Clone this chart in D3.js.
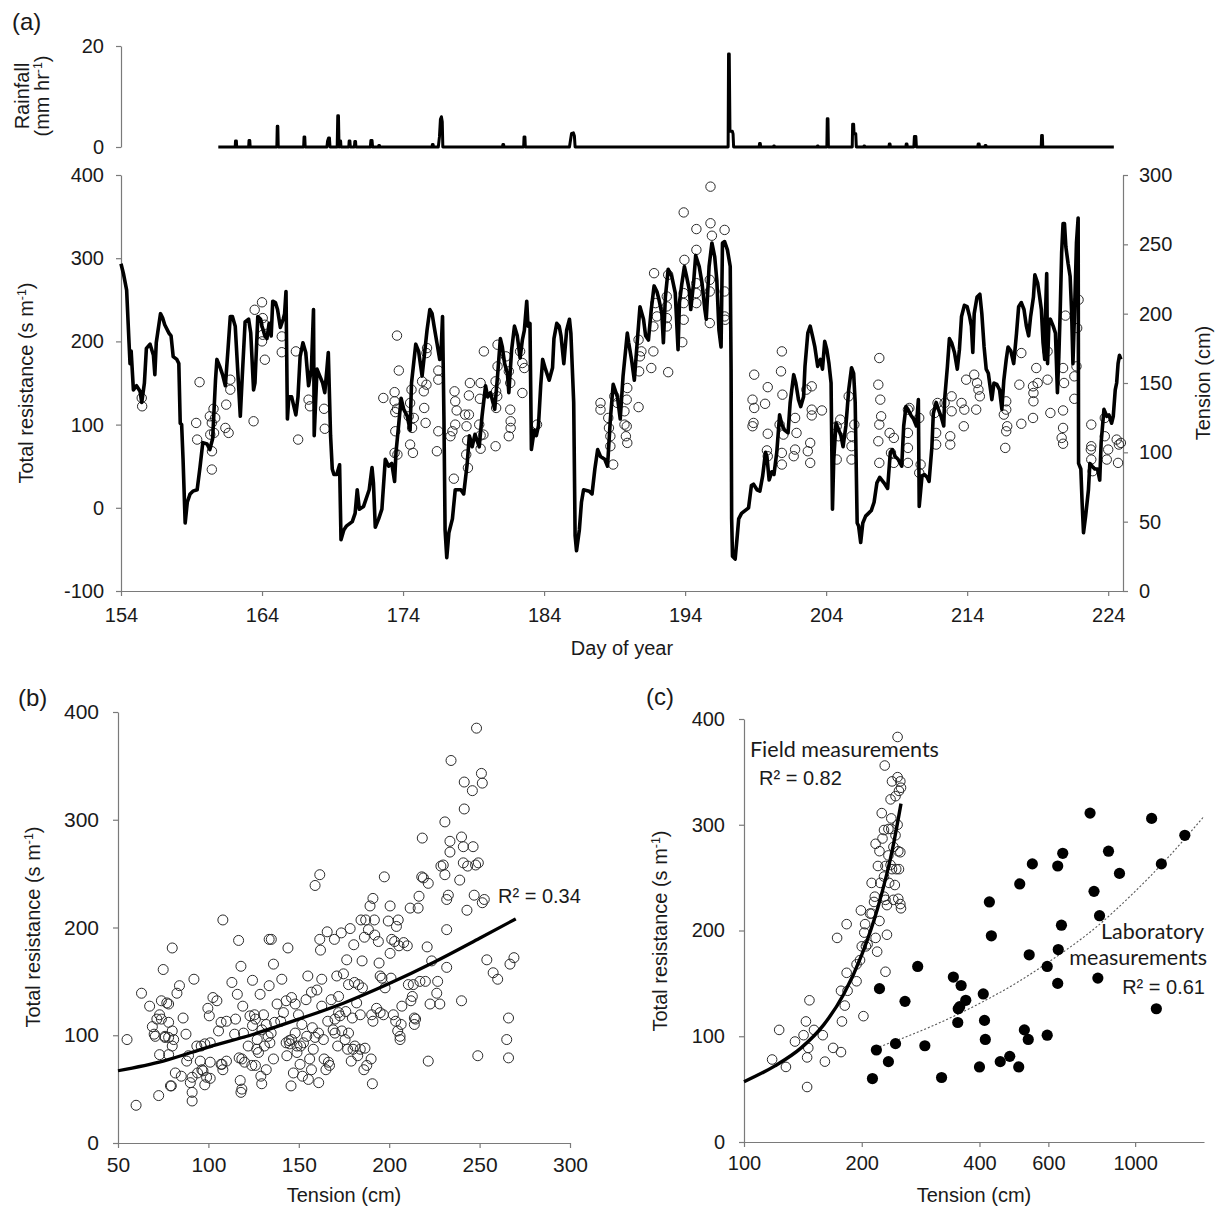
<!DOCTYPE html>
<html>
<head>
<meta charset="utf-8">
<script src="https://cdn.jsdelivr.net/npm/d3@7"></script>
<style>
  body { margin: 0; background: #fff; }
  svg { display: block; }
</style>
</head>
<body>
<div id="chart"></div>
<script>

// ---- data ----

// rainfall (day of year, mm/hr)
var rainfall = [
  [160.9,0],[162.1,0],[162.12,1.2],[162.18,1.2],[162.2,0],
  [163.05,0],[163.08,1.3],[163.13,1.3],[163.16,0],
  [165.05,0],[165.08,4.1],[165.12,4.1],[165.15,0],
  [166.95,0],[166.98,2.0],[167.03,2.0],[167.06,0],
  [168.6,0],[168.65,1.2],[168.72,1.8],[168.78,1.8],[168.82,0],
  [169.33,0],[169.37,6.2],[169.42,6.2],[169.46,0],[169.52,1.2],[169.57,1.2],[169.6,0],
  [170.15,0],[170.18,1.2],[170.23,1.2],[170.26,0],
  [170.55,0],[170.58,1.1],[170.63,1.1],[170.66,0],
  [171.68,0],[171.72,1.3],[171.8,1.3],[171.84,0],
  [172.25,0],[172.28,0.3],[172.33,0.3],[172.36,0],
  [176.05,0],[176.08,0.5],[176.13,0.5],[176.16,0],
  [176.5,0],[176.58,2.0],[176.65,5.5],[176.72,6.0],[176.78,5.0],[176.82,0],
  [181.05,0],[181.08,0.5],[181.13,0.5],[181.16,0],
  [182.55,0],[182.58,2.0],[182.64,2.0],[182.67,0],
  [185.8,0],[185.88,1.5],[185.95,2.7],[186.08,2.8],[186.15,2.2],[186.2,0],
  [197.05,0],[197.08,18.4],[197.13,18.4],[197.18,3.1],[197.35,3.1],[197.4,2.6],[197.44,0],
  [199.25,0],[199.28,0.7],[199.33,0.7],[199.36,0],
  [200.25,0],[200.28,0.2],[200.33,0.2],[200.36,0],
  [203.35,0],[203.38,0.2],[203.43,0.2],[203.46,0],
  [204.05,0],[204.08,5.6],[204.13,5.6],[204.16,0],
  [205.85,0],[205.88,4.5],[205.95,4.5],[205.98,2.6],[206.1,2.6],[206.14,0],
  [206.65,0],[206.68,0.2],[206.73,0.2],[206.76,0],
  [208.45,0],[208.48,0.6],[208.53,0.6],[208.56,0],
  [209.65,0],[209.68,0.6],[209.73,0.6],[209.76,0],
  [210.22,0],[210.26,2.1],[210.36,2.1],[210.4,0],
  [214.75,0],[214.78,0.6],[214.85,0.6],[214.88,0],
  [215.25,0],[215.28,0.3],[215.33,0.3],[215.36,0],
  [219.25,0],[219.28,2.3],[219.33,2.3],[219.36,0],
  [224.4,0]
];

// soil tension (day of year, cm)
var tension = [
  [154.0,236],[154.17,229],[154.4,217],[154.57,179],[154.64,164],[154.72,173],[154.88,145],[155.1,148],[155.35,144],[155.47,136],
  [155.66,150],[155.8,175],[156.06,178],[156.3,170],[156.4,156],[156.5,179],[156.6,186],[156.8,200],[156.95,197],[157.1,192],
  [157.4,186],[157.55,184],[157.7,169],[157.96,167],[158.1,164],[158.2,121],[158.3,120],[158.4,95],[158.55,49],[158.7,64],
  [158.9,70],[159.1,72],[159.4,73],[159.6,89],[159.8,107],[160.1,106],[160.3,102],[160.5,110],[160.7,152],[160.8,167],
  [161.0,162],[161.2,156],[161.4,148],[161.6,176],[161.75,198],[161.9,198],[162.1,191],[162.3,155],[162.46,126],[162.6,155],
  [162.8,194],[163.05,196],[163.2,186],[163.4,145],[163.5,150],[163.7,198],[163.9,196],[164.0,191],[164.2,184],[164.35,182],
  [164.5,193],[164.65,184],[164.76,209],[164.95,208],[165.1,203],[165.3,190],[165.5,196],[165.6,200],[165.7,216],[165.8,124],
  [165.9,140],[166.1,140],[166.4,127],[166.55,140],[166.7,169],[166.9,179],[167.1,172],[167.3,148],[167.5,160],[167.65,203],
  [167.7,112],[167.9,160],[168.1,155],[168.3,150],[168.45,143],[168.6,160],[168.7,172],[168.86,112],[168.98,88],[169.1,84],
  [169.3,84],[169.5,91],[169.6,37],[169.8,44],[170.0,47],[170.4,50],[170.6,56],[170.75,73],[170.9,59],[171.2,61],
  [171.6,73],[171.8,89],[171.9,78],[172.03,46],[172.27,52],[172.5,59],[172.74,95],[172.98,90],[173.2,92],[173.4,79],
  [173.5,100],[173.7,121],[173.86,139],[174.05,131],[174.3,126],[174.5,116],[174.6,150],[174.9,178],[175.1,173],[175.35,155],
  [175.5,169],[175.7,188],[175.9,203],[176.06,200],[176.2,191],[176.4,179],[176.6,167],[176.7,174],[176.8,198],[176.9,124],
  [176.98,44],[177.1,24],[177.25,42],[177.5,52],[177.7,73],[178.1,73],[178.3,70],[178.55,92],[178.7,112],[178.9,104],
  [179.1,113],[179.4,104],[179.6,126],[179.85,148],[180.0,140],[180.2,143],[180.5,131],[180.7,155],[180.9,182],[181.04,176],
  [181.2,164],[181.4,157],[181.5,143],[181.7,174],[181.9,191],[182.1,184],[182.3,168],[182.46,181],[182.6,188],[182.77,209],
  [182.86,191],[183.0,193],[183.1,102],[183.3,116],[183.45,112],[183.6,119],[183.76,148],[183.9,167],[184.1,160],[184.36,152],
  [184.6,161],[184.7,182],[184.9,193],[185.07,191],[185.2,184],[185.4,164],[185.6,188],[185.8,196],[185.9,186],[186.1,136],
  [186.2,40],[186.3,29],[186.5,44],[186.65,64],[186.8,73],[187.2,72],[187.4,70],[187.6,88],[187.8,102],[188.0,97],
  [188.3,95],[188.5,90],[188.7,124],[188.9,149],[189.2,140],[189.4,124],[189.6,155],[189.9,186],[190.0,179],[190.2,167],
  [190.4,152],[190.6,179],[190.8,205],[191.05,196],[191.2,184],[191.4,181],[191.6,203],[191.8,220],[192.0,216],[192.15,210],
  [192.35,200],[192.46,179],[192.6,212],[192.8,232],[193.05,227],[193.3,215],[193.5,174],[193.6,208],[193.76,221],[193.95,234],
  [194.1,227],[194.3,217],[194.4,203],[194.6,222],[194.75,242],[195.0,234],[195.2,222],[195.4,203],[195.5,196],[195.7,234],
  [195.9,251],[196.1,241],[196.25,224],[196.4,188],[196.55,176],[196.65,251],[196.8,252],[197.0,246],[197.2,234],[197.26,160],
  [197.3,52],[197.36,25],[197.55,23],[197.7,40],[197.8,52],[198.0,56],[198.25,58],[198.5,60],[198.7,76],[198.85,77],
  [199.1,73],[199.3,72],[199.5,83],[199.7,100],[199.8,97],[199.96,80],[200.15,86],[200.3,84],[200.5,100],[200.7,127],
  [200.86,120],[201.05,116],[201.3,114],[201.45,136],[201.7,156],[201.85,150],[202.04,138],[202.2,133],[202.4,140],[202.5,162],
  [202.7,186],[202.87,191],[203.03,184],[203.2,176],[203.4,162],[203.6,167],[203.74,160],[203.9,180],[204.05,174],[204.2,164],
  [204.35,150],[204.45,59],[204.54,95],[204.7,121],[204.9,116],[205.05,112],[205.2,104],[205.4,119],[205.6,145],[205.8,161],
  [205.95,157],[206.06,136],[206.2,49],[206.3,47],[206.45,35],[206.6,49],[206.8,54],[207.0,56],[207.2,58],[207.4,64],
  [207.6,78],[207.8,82],[208.1,78],[208.36,74],[208.55,100],[208.7,102],[208.9,97],[209.1,95],[209.36,90],[209.5,119],
  [209.66,133],[209.8,131],[210.0,127],[210.2,124],[210.4,119],[210.54,138],[210.6,61],[210.8,83],[210.97,84],[211.16,82],
  [211.3,79],[211.5,104],[211.6,128],[211.8,136],[211.96,131],[212.15,126],[212.34,119],[212.4,138],[212.6,162],[212.74,182],
  [212.9,179],[213.1,172],[213.3,160],[213.45,174],[213.6,198],[213.8,206],[214.0,205],[214.17,198],[214.3,191],[214.4,172],
  [214.5,200],[214.7,212],[214.9,214],[215.04,200],[215.2,176],[215.35,160],[215.5,157],[215.66,145],[215.75,138],[215.9,150],
  [216.1,149],[216.3,145],[216.46,131],[216.6,152],[216.77,167],[216.9,176],[217.1,173],[217.3,164],[217.5,186],[217.65,205],
  [217.84,208],[218.03,203],[218.2,191],[218.36,184],[218.5,198],[218.7,212],[218.8,228],[219.0,222],[219.14,212],[219.26,203],
  [219.38,179],[219.5,167],[219.55,198],[219.64,229],[219.7,164],[219.8,193],[219.9,196],[220.1,191],[220.26,186],[220.4,143],
  [220.5,169],[220.6,203],[220.7,244],[220.8,265],[220.9,265],[221.0,248],[221.16,236],[221.3,227],[221.4,203],[221.5,164],
  [221.6,196],[221.75,251],[221.87,269],[221.9,92],[222.06,88],[222.15,64],[222.25,42],[222.4,54],[222.6,73],[222.7,92],
  [222.86,90],[223.05,88],[223.24,88],[223.4,80],[223.5,107],[223.7,131],[223.9,126],[224.05,127],[224.24,121],[224.36,126],
  [224.5,145],[224.6,150],[224.7,164],[224.8,170],[224.9,167]
];

// measured total resistance (day of year, s/m)
var resistance = [
  [155.47,132],[155.5,122],[159.57,151],[159.33,102],[159.4,82],[160.3,110],[160.56,119],[160.44,102],[160.68,108],[160.33,88],
  [160.6,90],[160.45,68],[160.44,46],[161.75,154],[161.75,142],[161.46,124],[161.4,96],[161.63,90],[163.4,104],[163.48,238],
  [164.0,247],[164.05,228],[164.2,220],[164.05,208],[164.0,200],[164.2,178],[165.4,206],[165.4,187],[166.4,188],[166.56,82],
  [167.3,130],[167.4,122],[168.4,119],[168.45,95],
  [172.6,132],[173.4,139],[173.4,128],[173.45,115],[173.57,207],[173.7,165],[173.57,119],[173.45,92],[173.4,66],[173.6,64],
  [174.4,110],[174.6,142],[174.5,126],[174.76,108],[174.64,96],[174.5,76],[174.7,66],[175.35,152],[175.47,140],[175.66,148],
  [175.5,120],[175.6,102],[175.7,192],[175.66,186],[176.5,165],[176.5,154],[176.5,92],[176.4,68],[177.6,35],[177.65,140],
  [177.7,128],[177.8,117],[177.7,100],[177.5,92],[177.36,86],[178.4,112],[178.67,112],[178.5,98],[178.55,81],[178.48,64],
  [178.6,48],[178.74,150],[178.67,135],[179.5,150],[179.45,131],[179.4,100],[179.5,87],[179.5,71],[179.7,88],[179.73,188],
  [180.7,196],[180.7,170],[180.56,152],[180.6,140],[180.68,134],[180.6,120],[180.56,74],[181.3,182],[181.5,164],[181.6,150],
  [181.6,118],[181.63,104],[181.63,96],[181.5,86],[182.3,188],[182.46,174],[182.6,168],[182.46,138],[183.5,100],
  [188.0,126],[188.0,118],[188.55,108],[188.6,96],[188.7,86],[188.7,74],[188.9,52],[188.98,134],[189.2,126],[189.7,116],
  [189.7,100],[189.8,86],[189.9,78],[189.9,144],[189.86,130],[189.86,98],
  [190.7,202],[190.8,182],[190.74,164],[190.7,121],[190.9,188],[191.6,168],[191.75,188],[191.75,218],[191.8,282],[191.9,246],
  [192.0,230],[192.8,163],[192.7,254],[192.8,280],[192.7,242],[192.7,228],[192.7,218],[193.9,355],[193.95,298],[193.9,258],
  [193.9,246],[193.9,226],[193.8,199],[194.8,335],[194.8,310],[194.8,270],[194.8,258],[194.8,246],[195.8,386],[195.8,342],
  [195.9,327],[195.75,274],[195.75,260],[195.75,222],[196.8,334],[196.8,260],[196.8,230],[196.85,226],
  [198.9,160],[198.78,130],[198.9,120],[198.85,102],[198.78,98],[199.67,125],[199.86,145],[199.86,89],[199.8,69],[199.86,62],
  [200.86,188],[200.8,164],[200.9,136],[200.7,100],[200.97,88],[200.86,66],[200.86,52],[201.8,108],[201.9,90],[201.8,70],
  [201.7,62],[202.6,142],[202.98,146],[202.98,118],[202.98,111],[203.7,117],[202.87,78],[202.7,68],[202.87,54],[204.75,98],
  [204.87,86],[204.75,58],[205.0,106],[205.6,134],[206.0,100],[205.8,74],[205.8,58],[205.8,86],
  [207.77,180],[207.7,148],[207.84,130],[207.9,110],[207.77,100],[207.7,80],[207.77,54],[208.5,90],[208.8,84],[208.6,66],
  [208.8,54],[209.8,118],[209.8,90],[209.8,72],[209.8,54],[209.9,120],[210.6,108],[210.7,52],[210.6,42],[211.7,114],
  [211.8,90],[211.8,76],[211.9,126],[212.4,126],[212.9,134],[212.9,116],[212.8,86],[212.8,76],[213.6,126],[213.8,118],
  [213.76,98],[213.93,154],[214.5,160],[214.7,150],[214.8,142],[214.9,134],[214.64,118],[216.77,128],[216.77,118],[216.84,98],
  [216.77,92],[216.7,72],[216.6,112],[217.84,186],[217.7,148],[217.84,101],[218.67,146],[218.7,138],[218.7,128],[218.67,108],
  [218.9,168],[219.0,150],[219.7,154],[219.7,188],[219.9,114],[220.8,168],[220.87,150],[220.8,117],[220.8,96],[220.7,84],
  [220.8,77],[220.97,231],[221.6,158],[221.75,170],[221.8,216],[221.9,250],[221.6,131],[222.8,100],[222.77,70],[222.8,58],
  [222.9,44],[222.8,74],[223.76,108],[223.76,86],[223.9,58],[224.0,70],[224.6,82],[224.76,76],[224.7,54],[224.9,78]
];

// (b) tension (cm) vs total resistance (s/m)
var scatterB = [
  [55,96],[60,35],[63,139],[67.5,127],[69,108],[70,101],[70.6,99],[71.5,115],[73,119],[74,115],[72.5,44],[73,82],[75,161],
  [74,132],[77,130],[78,129],[78,112],[76,99],[76,98],[78,98],[80,104],[80,181],[80,90],[78,82],[79,53],[79.5,53],[80.8,96],
  [81.7,65],[82.6,139],[84,146],[85,62],[86,116],[87.6,101],[88,76],[89,81],[90,56],[91,61],[91,47],[91,39],[92,152],
  [93.6,90],[94,65],[95.5,76],[96,90],[96.4,68],[97,67],[98,54],[98,92],[99,61],[99.7,125],[100.5,118],[101,93],[101,60],
  [101,75],[102.5,135],[104.7,132],[105.6,104],[107,112],[107,73],[107.5,73],[108,68],[108,207],[110,113],[110,76],[113,149],
  [114.5,101],[115,115],[116,138],[116.7,188],[117,79],[117.6,58],[118,47],[118.5,50],[118,164],[118.5,78],[119,127],
  [119.4,102],[120,75],[122,90],[123,118],[124,72],[124.4,109],[124.4,151],[125.5,119],[126,115],[126,72],[126.7,87],
  [127,96],[127.7,84],[128.6,138],[129,62],[129.5,55],[129.6,105],[130.5,119],[131,90],[132,68],[132,110],[133,99],
  [133.6,189],[133.6,146],[134,93],[134.7,102],[134.8,189],[136,166],[136,78],[136.6,112],[138,129],[140,113],[140.6,152],
  [141.5,121],[143,132],[143,93],[143.4,81],[144,181],[144.6,95],[145,92],[145.7,53],[146,135],[146,96],[147,65],[148,102],
  [148,129],[149,90],[149,84],[149.8,119],[150.7,73],[151,90],[151.7,110],[152,62],[152.6,93],[154,133],[154.4,99],
  [155,155],[155.3,59],[156,78],[157,68],[157,140],[157.5,107],[158,87],[159,239],[159,98],[160,142],[160.9,102],[161,56],
  [161.6,249],[161.6,189],[162,179],[162.7,152],[162.7,127],[163.6,96],[164,78],[165,68],[165.7,196],[166,113],[166.4,75],
  [167,72],[167.9,133],[169,105],[169.7,189],[170,115],[170,102],[171,155],[171.5,90],[172,136],[172,121],[172.8,118],
  [173.5,195],[173.8,104],[174.7,157],[175.6,96],[176,122],[176.5,170],[177,87],[177.5,147],[177.5,102],[178.4,199],
  [179,76],[179.6,116],[180,87],[180.4,184],[180.8,149],[181,90],[182,130],[182.6,81],[183,147],[184,119],[184,87],
  [184.4,207],[185,169],[185.2,144],[186,68],[186.3,191],[186.6,88],[187,207],[187.6,72],[188.5,198],[189.4,220],[190,78],
  [190.3,119],[190.7,55],[191,227],[191,113],[191.8,207],[192,193],[193,125],[194,187],[194.4,167],[195,155],[195,121],
  [196,153],[196.8,119],[197.3,247],[197.7,144],[199.5,206],[200.5,176],[200.5,220],[201,153],[201.4,189],[202.3,119],
  [203,187],[203.6,113],[204,201],[204.7,104],[205,207],[205.4,183],[206,99],[206,96],[206.6,110],[207,127],[208,186],
  [210,183],[210.6,147],[211.6,218],[212,132],[212.8,136],[213.3,147],[213.9,116],[213.9,110],[214.6,115],[216,218],
  [216.5,229],[217,150],[218,247],[218.3,283],[218.9,246],[220,150],[221,182],[221.6,241],[221.6,76],[222.6,129],[223.5,169],
  [226.3,139],[226.8,150],[228,129],[228.6,257],[229.9,258],[230.8,249],[230.8,298],[231.8,198],[231.8,163],[231.8,226],
  [232.7,230],[233.6,270],[233.6,280],[234.2,355],[239,244],[240,132],[240,284],[241,275],[241,260],[241.5,335],[241.5,310],
  [243,216],[243.4,257],[246,327],[246.4,275],[247,230],[247.8,258],[248.3,385],[249,81],[249.3,260],[251,343],[251.5,334],
  [251.5,223],[252.6,226],[254,170],[257.5,158],[260,152],[265,96],[266,116],[266,79],[266.8,166],[269,172]
];
// trend line
var trendB = [[50,67],[75,76],[100,89],[125,101],[150,115],[175,130],[200,148],[225,168],[250,190],[270,208]];

// (c) field and laboratory measurements
var fieldC = [
  [118,78],[123,106],[128,71],[135,95],[142,101],[144,114],[145,80],[146,89],[145,52],[147,134],[151,106],[159,101],[161,76],
  [169,89],[173,193],[177,85],[178,114],[177,143],[181,129],[183,206],[183,160],[184,143],[194,152],[194,168],[198,172],
  [199,219],[200,185],[202,119],[203,198],[204,206],[205,185],[207,187],[210,216],[212,216],[215,227],[216,232],[217,282],
  [219,180],[220,261],[222,275],[223,245],[225,311],[226,287],[228,295],[229,356],[230,261],[230,229],[230,161],[232,196],
  [232,224],[234,271],[234,296],[235,245],[237,324],[238,306],[239,258],[239,341],[241,279],[241,229],[243,243],[244,327],
  [244,290],[245,258],[247,383],[247,345],[248,275],[248,230],[249,332],[249,258],[251,341],[251,274],[251,225],[252,335],
  [252,221],[247,300],[238,296],[228,232],[222,209],[217,193],[212,245],[237,262],[228,251]
];
var labC = [
  [213,60],[218,87],[222,145],[234,76],[244,93],[258,133],[278,166],[290,91],[320,61],[343,156],[352,113],[353,126],[356,128],
  [359,148],[369,134],[400,71],[409,140],[412,115],[414,97],[424,227],[429,195],[452,76],[478,81],[504,71],[507,244],[521,106],
  [533,97],[536,177],[546,263],[596,166],[596,101],[634,261],[634,150],[636,182],[648,205],[653,273],[767,311],[785,237],
  [803,155],[811,214],[855,275],[912,254],[1102,306],[1133,126],[1167,263],[1340,290]
];
var trendField = [[100,57],[120,72],[140,89],[160,111],[180,140],[200,177],[220,222],[240,278],[252,320]];
var trendLab = [[222,90],[300,109],[400,131],[500,151],[600,170],[800,204],[1000,237],[1200,267],[1500,308]];

// tick values
var dayTicks = [154, 164, 174, 184, 194, 204, 214, 224];
var rainTicks = [0, 20];
var resTicks = [-100, 0, 100, 200, 300, 400];
var tenTicks = [0, 50, 100, 150, 200, 250, 300];
var tenTicksB = [50, 100, 150, 200, 250, 300];
var resTicksBC = [0, 100, 200, 300, 400];
var tenTicksC = [100, 200, 400, 600, 1000];

// ---- drawing ----

var FONT = "'Liberation Sans', Arial, sans-serif";
var FONT_CAL = "Lato, 'Open Sans', sans-serif";
var AXIS_COL = "#7a7a7a";

var svg = d3.select("#chart").append("svg")
  .attr("width", 1220)
  .attr("height", 1211);

svg.append("rect").attr("width", 1220).attr("height", 1211).attr("fill", "#fff");

function styleAxis(g, size) {
  g.attr("font-family", FONT).attr("font-size", size);
  g.select(".domain").attr("stroke", AXIS_COL).attr("stroke-width", 1.2);
  g.selectAll(".tick line").attr("stroke", AXIS_COL).attr("stroke-width", 1.2);
  g.selectAll(".tick text").attr("fill", "#1a1a1a");
}

function plainNum(d) { return String(d); }

function addText(x, y, str, opts) {
  opts = opts || {};
  var t = svg.append("text")
    .attr("x", x)
    .attr("y", y)
    .attr("font-family", opts.font || FONT)
    .attr("font-size", opts.size || 20)
    .attr("fill", "#1a1a1a")
    .attr("text-anchor", opts.anchor || "start");
  if (opts.rotate) t.attr("transform", "rotate(-90," + x + "," + y + ")");
  if (opts.sup) {
    t.append("tspan").text(str);
    t.append("tspan").attr("dy", -7).attr("font-size", "0.62em").text(opts.sup);
    t.append("tspan").attr("dy", 7).text(opts.post || "");
  } else {
    t.text(str);
  }
  return t;
}

// panel (a)
var x = d3.scaleLinear().domain([154, 225.05]).range([121, 1123]);
var yRain = d3.scaleLinear().domain([0, 20]).range([147, 46]);
var yRes = d3.scaleLinear().domain([-100, 400]).range([591, 175]);
var yTen = d3.scaleLinear().domain([0, 300]).range([591, 175]);

svg.append("g")
  .attr("transform", "translate(121,0)")
  .call(d3.axisLeft(yRain).tickValues(rainTicks).tickSize(5).tickSizeOuter(0).tickPadding(12))
  .call(styleAxis, 20);

svg.append("g")
  .attr("transform", "translate(121,0)")
  .call(d3.axisLeft(yRes).tickValues(resTicks).tickFormat(plainNum).tickSize(5).tickSizeOuter(0).tickPadding(12))
  .call(styleAxis, 20);

svg.append("g")
  .attr("transform", "translate(1123,0)")
  .call(d3.axisRight(yTen).tickValues(tenTicks).tickSize(5).tickSizeOuter(0).tickPadding(11))
  .call(styleAxis, 20);

svg.append("g")
  .attr("transform", "translate(0,591)")
  .call(d3.axisBottom(x).tickValues(dayTicks).tickSize(5).tickSizeOuter(0).tickPadding(12))
  .call(styleAxis, 20);

var rainLine = d3.line()
  .x(function(d) { return x(d[0]); })
  .y(function(d) { return yRain(d[1]); });

svg.append("path")
  .datum(rainfall)
  .attr("d", rainLine)
  .attr("fill", "none")
  .attr("stroke", "#000")
  .attr("stroke-width", 3)
  .attr("stroke-linejoin", "round");

svg.append("g").selectAll("circle")
  .data(resistance)
  .enter().append("circle")
  .attr("cx", function(d) { return x(d[0]); })
  .attr("cy", function(d) { return yRes(d[1]); })
  .attr("r", 4.7)
  .attr("fill", "none")
  .attr("stroke", "#2a2a2a")
  .attr("stroke-width", 1);

var tenLine = d3.line()
  .x(function(d) { return x(d[0]); })
  .y(function(d) { return yTen(d[1]); });

svg.append("path")
  .datum(tension)
  .attr("d", tenLine)
  .attr("fill", "none")
  .attr("stroke", "#000")
  .attr("stroke-width", 3.6)
  .attr("stroke-linejoin", "round");

addText(12, 30, "(a)", {size: 24});
addText(29, 96, "Rainfall", {size: 20, anchor: "middle", rotate: true});
addText(49, 96, "(mm hr", {size: 20, anchor: "middle", rotate: true, sup: "-1", post: ")"});
addText(33, 383, "Total resistance (s m", {size: 20, anchor: "middle", rotate: true, sup: "-1", post: ")"});
addText(1210, 383, "Tension (cm)", {size: 20, anchor: "middle", rotate: true});
addText(622, 655, "Day of year", {size: 20, anchor: "middle"});

// panel (b)
var xb = d3.scaleLinear().domain([50, 300]).range([118, 570]);
var yb = d3.scaleLinear().domain([0, 400]).range([1143, 712]);

svg.append("g")
  .attr("transform", "translate(118,0)")
  .call(d3.axisLeft(yb).tickValues(resTicksBC).tickSize(5).tickSizeOuter(0).tickPadding(14))
  .call(styleAxis, 21);

svg.append("g")
  .attr("transform", "translate(0,1143)")
  .call(d3.axisBottom(xb).tickValues(tenTicksB).tickSize(5).tickSizeOuter(0).tickPadding(9))
  .call(styleAxis, 21);

svg.append("g").selectAll("circle")
  .data(scatterB)
  .enter().append("circle")
  .attr("cx", function(d) { return xb(d[0]); })
  .attr("cy", function(d) { return yb(d[1]); })
  .attr("r", 5)
  .attr("fill", "none")
  .attr("stroke", "#2a2a2a")
  .attr("stroke-width", 1);

svg.append("path")
  .datum(trendB)
  .attr("d", d3.line()
    .x(function(d) { return xb(d[0]); })
    .y(function(d) { return yb(d[1]); })
    .curve(d3.curveMonotoneX))
  .attr("fill", "none")
  .attr("stroke", "#000")
  .attr("stroke-width", 3.2);

addText(18, 706, "(b)", {size: 24});
addText(40, 927, "Total resistance (s m", {size: 20, anchor: "middle", rotate: true, sup: "-1", post: ")"});
addText(344, 1202, "Tension (cm)", {size: 20, anchor: "middle"});
addText(498, 903, "R\u00b2 = 0.34", {size: 20});

// panel (c)
var xc = d3.scaleLog().domain([100, 1500]).range([744, 1204]);
var yc = d3.scaleLinear().domain([0, 400]).range([1142, 719]);

svg.append("g")
  .attr("transform", "translate(744,0)")
  .call(d3.axisLeft(yc).tickValues(resTicksBC).tickSize(5).tickSizeOuter(0).tickPadding(14))
  .call(styleAxis, 20);

svg.append("g")
  .attr("transform", "translate(0,1142)")
  .call(d3.axisBottom(xc).tickValues(tenTicksC).tickFormat(plainNum).tickSize(5).tickSizeOuter(0).tickPadding(9))
  .call(styleAxis, 20);

svg.append("path")
  .datum(trendLab)
  .attr("d", d3.line()
    .x(function(d) { return xc(d[0]); })
    .y(function(d) { return yc(d[1]); })
    .curve(d3.curveMonotoneX))
  .attr("fill", "none")
  .attr("stroke", "#555")
  .attr("stroke-width", 1.1)
  .attr("stroke-dasharray", "2,2");

svg.append("g").selectAll("circle")
  .data(fieldC)
  .enter().append("circle")
  .attr("cx", function(d) { return xc(d[0]); })
  .attr("cy", function(d) { return yc(d[1]); })
  .attr("r", 4.8)
  .attr("fill", "none")
  .attr("stroke", "#2a2a2a")
  .attr("stroke-width", 1);

svg.append("g").selectAll("circle")
  .data(labC)
  .enter().append("circle")
  .attr("cx", function(d) { return xc(d[0]); })
  .attr("cy", function(d) { return yc(d[1]); })
  .attr("r", 5.6)
  .attr("fill", "#000");

svg.append("path")
  .datum(trendField)
  .attr("d", d3.line()
    .x(function(d) { return xc(d[0]); })
    .y(function(d) { return yc(d[1]); })
    .curve(d3.curveMonotoneX))
  .attr("fill", "none")
  .attr("stroke", "#000")
  .attr("stroke-width", 3.4);

addText(646, 705, "(c)", {size: 24});
addText(667, 931, "Total resistance (s m", {size: 20, anchor: "middle", rotate: true, sup: "-1", post: ")"});
addText(974, 1202, "Tension (cm)", {size: 20, anchor: "middle"});
addText(750, 757, "Field measurements", {font: FONT_CAL, size: 21.5});
addText(759, 785, "R\u00b2 = 0.82", {size: 20});
addText(1204, 939, "Laboratory", {font: FONT_CAL, size: 21.5, anchor: "end"});
addText(1207, 965, "measurements", {font: FONT_CAL, size: 21.5, anchor: "end"});
addText(1205, 994, "R\u00b2 = 0.61", {size: 20, anchor: "end"});

</script>
</body>
</html>
